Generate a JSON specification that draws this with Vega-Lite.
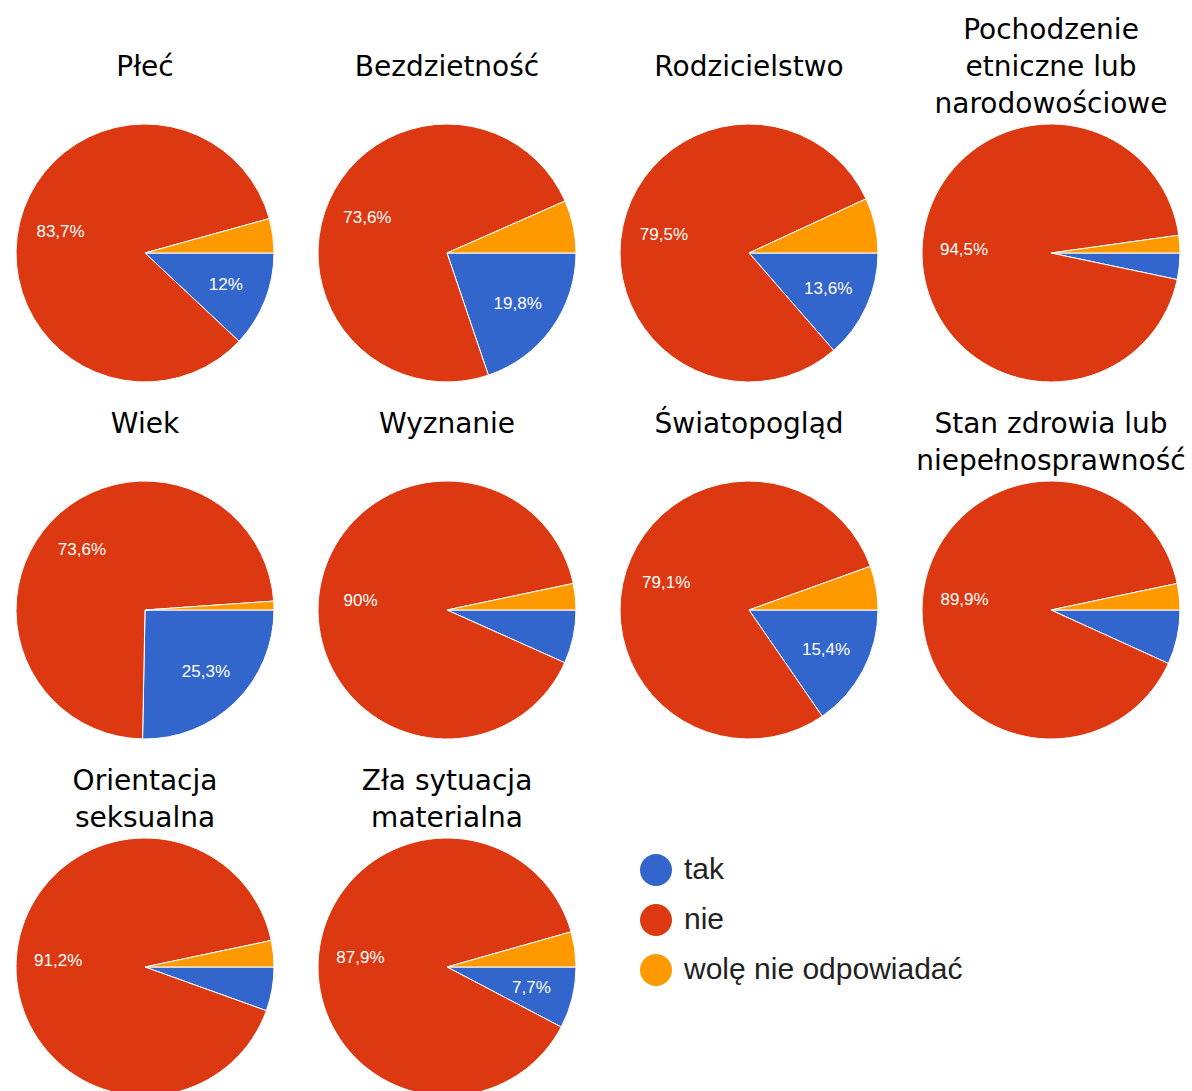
{
  "$schema": "https://vega.github.io/schema/vega-lite/v6.json",
  "padding": {"left": 4, "top": 17, "right": 0, "bottom": 0},
  "data": {"values": [
    {"q": "Płeć", "k": 0, "odp": "tak", "v": 12},
    {"q": "Płeć", "k": 1, "odp": "nie", "v": 83.7},
    {"q": "Płeć", "k": 2, "odp": "wolę nie odpowiadać", "v": 4.3},
    {"q": "Bezdzietność", "k": 0, "odp": "tak", "v": 19.8},
    {"q": "Bezdzietność", "k": 1, "odp": "nie", "v": 73.6},
    {"q": "Bezdzietność", "k": 2, "odp": "wolę nie odpowiadać", "v": 6.6},
    {"q": "Rodzicielstwo", "k": 0, "odp": "tak", "v": 13.6},
    {"q": "Rodzicielstwo", "k": 1, "odp": "nie", "v": 79.5},
    {"q": "Rodzicielstwo", "k": 2, "odp": "wolę nie odpowiadać", "v": 6.9},
    {"q": "Pochodzenie|etniczne lub|narodowościowe", "k": 0, "odp": "tak", "v": 3.3},
    {"q": "Pochodzenie|etniczne lub|narodowościowe", "k": 1, "odp": "nie", "v": 94.5},
    {"q": "Pochodzenie|etniczne lub|narodowościowe", "k": 2, "odp": "wolę nie odpowiadać", "v": 2.2},
    {"q": "Wiek", "k": 0, "odp": "tak", "v": 25.3},
    {"q": "Wiek", "k": 1, "odp": "nie", "v": 73.6},
    {"q": "Wiek", "k": 2, "odp": "wolę nie odpowiadać", "v": 1.1},
    {"q": "Wyznanie", "k": 0, "odp": "tak", "v": 6.7},
    {"q": "Wyznanie", "k": 1, "odp": "nie", "v": 90},
    {"q": "Wyznanie", "k": 2, "odp": "wolę nie odpowiadać", "v": 3.3},
    {"q": "Światopogląd", "k": 0, "odp": "tak", "v": 15.4},
    {"q": "Światopogląd", "k": 1, "odp": "nie", "v": 79.1},
    {"q": "Światopogląd", "k": 2, "odp": "wolę nie odpowiadać", "v": 5.5},
    {"q": "Stan zdrowia lub|niepełnosprawność", "k": 0, "odp": "tak", "v": 6.8},
    {"q": "Stan zdrowia lub|niepełnosprawność", "k": 1, "odp": "nie", "v": 89.9},
    {"q": "Stan zdrowia lub|niepełnosprawność", "k": 2, "odp": "wolę nie odpowiadać", "v": 3.3},
    {"q": "Orientacja|seksualna", "k": 0, "odp": "tak", "v": 5.5},
    {"q": "Orientacja|seksualna", "k": 1, "odp": "nie", "v": 91.2},
    {"q": "Orientacja|seksualna", "k": 2, "odp": "wolę nie odpowiadać", "v": 3.3},
    {"q": "Zła sytuacja|materialna", "k": 0, "odp": "tak", "v": 7.7},
    {"q": "Zła sytuacja|materialna", "k": 1, "odp": "nie", "v": 87.9},
    {"q": "Zła sytuacja|materialna", "k": 2, "odp": "wolę nie odpowiadać", "v": 4.4}
  ]},
  "transform": [
    {"calculate": "datum.v >= 7 ? replace(format(datum.v, '.1~f'), '.', ',') + '%' : ''", "as": "lbl"}
  ],
  "facet": {
    "field": "q",
    "type": "nominal",
    "title": null,
    "sort": ["Płeć", "Bezdzietność", "Rodzicielstwo", "Pochodzenie|etniczne lub|narodowościowe", "Wiek", "Wyznanie", "Światopogląd", "Stan zdrowia lub|niepełnosprawność", "Orientacja|seksualna", "Zła sytuacja|materialna"],
    "header": {
      "labelExpr": "length(split(datum.value, '|')) == 1 ? [datum.value, ''] : split(datum.value, '|')",
      "labelFont": "DejaVu Sans",
      "labelFontSize": 28,
      "labelColor": "#000000",
      "labelLineHeight": 37,
      "labelBaseline": "bottom",
      "labelPadding": -25
    }
  },
  "columns": 4,
  "spacing": {"row": 27, "column": 20},
  "spec": {
    "width": 282,
    "height": 202,
    "layer": [
      {
        "mark": {"type": "arc", "outerRadius": 129, "stroke": "#ffffff", "strokeWidth": 1},
        "encoding": {
          "theta": {"field": "v", "type": "quantitative", "stack": true, "scale": {"range": [1.5707963, 7.8539816]}},
          "color": {
            "field": "odp", "type": "nominal",
            "scale": {"domain": ["tak", "nie", "wolę nie odpowiadać"], "range": ["#3366CC", "#DC3912", "#FF9900"]},
            "legend": {
              "title": null, "orient": "none", "legendX": 636, "legendY": 702,
              "labelFont": "Liberation Sans", "labelFontSize": 30, "labelColor": "#222222", "labelLimit": 500,
              "symbolType": "circle", "symbolSize": 1024, "symbolStrokeWidth": 0,
              "rowPadding": 18, "labelOffset": 12
            }
          },
          "order": {"field": "k", "type": "quantitative"}
        }
      },
      {
        "mark": {"type": "text", "radius": 87, "fill": "#ffffff", "font": "Liberation Sans", "fontSize": 17},
        "encoding": {
          "theta": {"field": "v", "type": "quantitative", "stack": true},
          "detail": {"field": "odp", "type": "nominal"},
          "order": {"field": "k", "type": "quantitative"},
          "text": {"field": "lbl", "type": "nominal"}
        }
      }
    ]
  },
  "config": {"view": {"stroke": null}}
}
